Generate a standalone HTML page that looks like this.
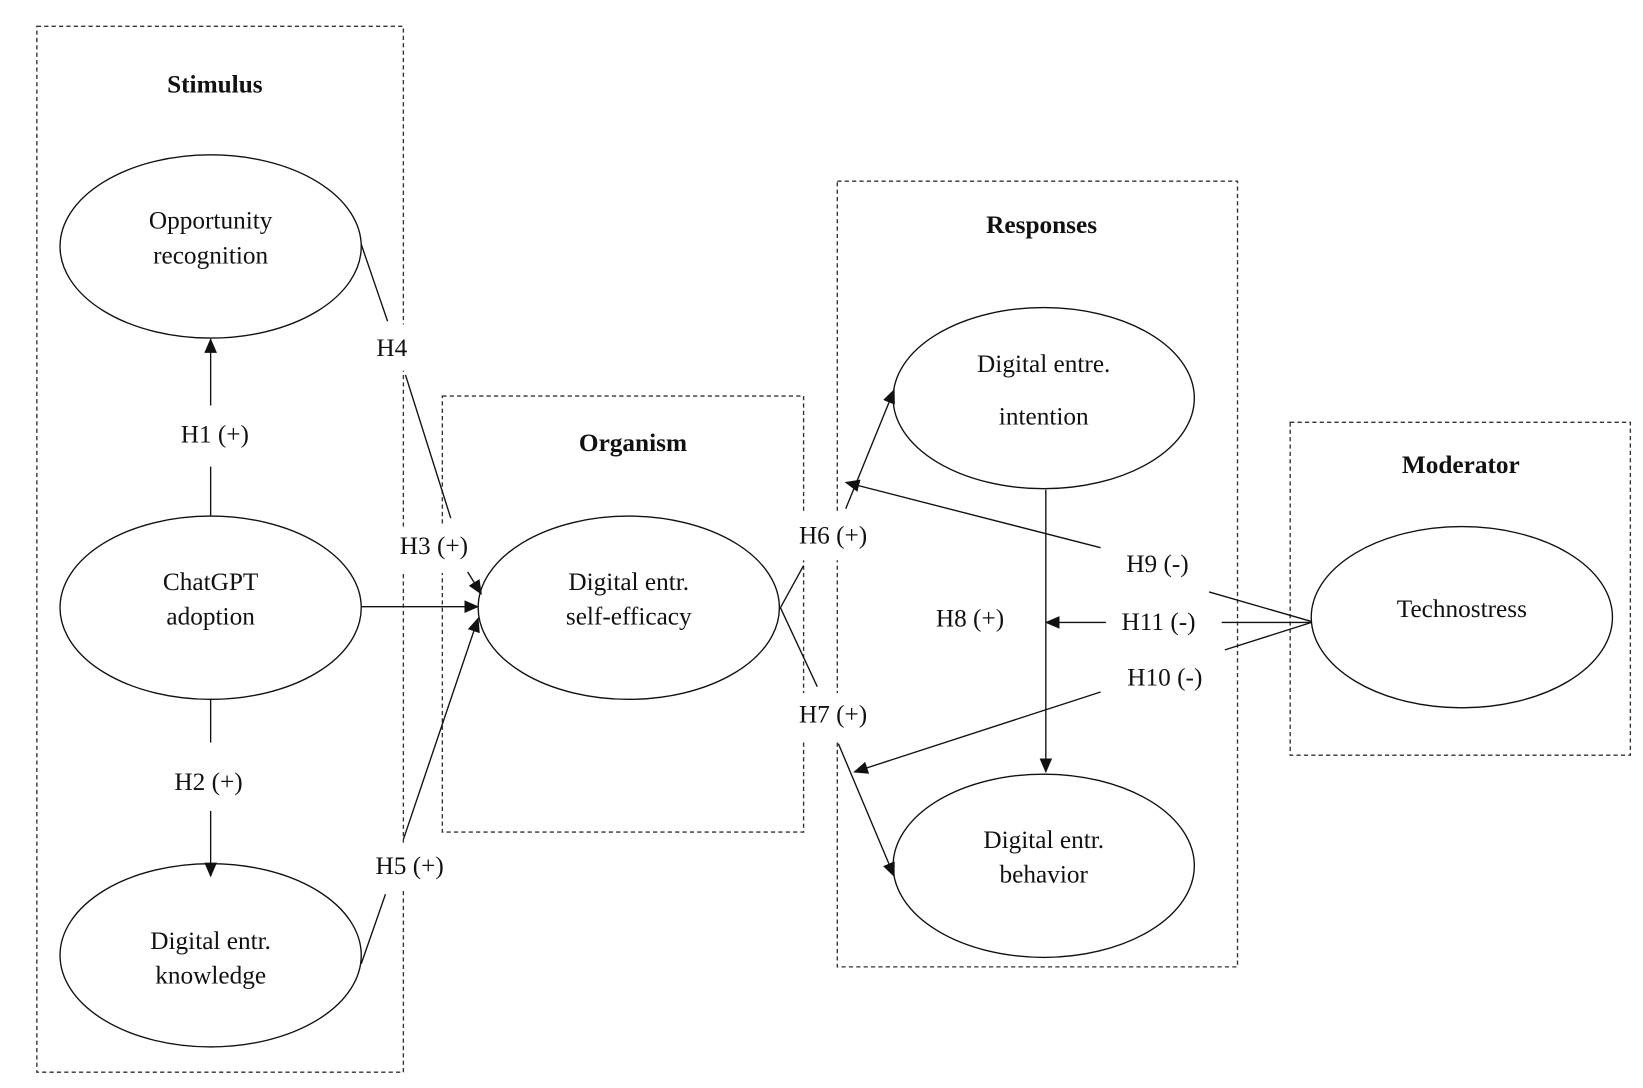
<!DOCTYPE html>
<html><head><meta charset="utf-8"><style>
html,body{margin:0;padding:0;background:#fff;}
svg{display:block;}
text{font-family:"Liberation Serif",serif;font-size:24px;fill:#111;text-anchor:middle;}
.b{font-weight:bold;}
.box{fill:none;stroke:#333;stroke-width:1.3;stroke-dasharray:4,3;}
.e{fill:#fff;stroke:#111;stroke-width:1.3;}
.l{stroke:#111;stroke-width:1.3;fill:none;}
.w{fill:#fff;stroke:none;}
</style></head><body>
<svg width="1643" height="1088" viewBox="0 0 1560 1033" preserveAspectRatio="none">
<defs><marker id="a" markerWidth="14" markerHeight="12" refX="13" refY="6" orient="auto" markerUnits="userSpaceOnUse"><path d="M0,0 L14,6 L0,12 z" fill="#111"/></marker></defs>
<rect class="box" x="35" y="25" width="348" height="993"/>
<rect class="box" x="420" y="376" width="343" height="414"/>
<rect class="box" x="795" y="172" width="380" height="746"/>
<rect class="box" x="1225" y="401" width="323" height="316"/>
<rect class="w" x="350" y="308" width="45" height="44"/>
<rect class="w" x="370" y="500" width="80" height="44"/>
<rect class="w" x="350" y="800" width="80" height="44"/>
<rect class="w" x="752" y="488" width="80" height="44"/>
<rect class="w" x="752" y="658" width="80" height="44"/>
<rect class="w" x="1130" y="574" width="35" height="34"/>
<text class="b" x="204" y="88">Stimulus</text>
<text class="b" x="601" y="428">Organism</text>
<text class="b" x="989" y="221">Responses</text>
<text class="b" x="1387" y="449">Moderator</text>
<ellipse class="e" cx="200" cy="234" rx="143" ry="87"/>
<ellipse class="e" cx="200" cy="577" rx="143" ry="87"/>
<ellipse class="e" cx="200" cy="907" rx="143" ry="87"/>
<ellipse class="e" cx="597" cy="577" rx="143" ry="87"/>
<ellipse class="e" cx="991" cy="378" rx="143" ry="86"/>
<ellipse class="e" cx="991" cy="822" rx="143" ry="87"/>
<ellipse class="e" cx="1388" cy="586" rx="143" ry="86"/>
<text x="200" y="217">Opportunity</text><text x="200" y="250">recognition</text>
<text x="200" y="560">ChatGPT</text><text x="200" y="593">adoption</text>
<text x="200" y="901">Digital entr.</text><text x="200" y="934">knowledge</text>
<text x="597" y="560">Digital entr.</text><text x="597" y="593">self-efficacy</text>
<text x="991" y="353">Digital entre.</text><text x="991" y="403">intention</text>
<text x="991" y="805">Digital entr.</text><text x="991" y="838">behavior</text>
<text x="1388" y="586">Technostress</text>
<line class="l" x1="200" y1="490" x2="200" y2="443"/>
<line class="l" x1="200" y1="385" x2="200" y2="322" marker-end="url(#a)"/>
<text x="204" y="420">H1 (+)</text>
<line class="l" x1="200" y1="664" x2="200" y2="705"/>
<line class="l" x1="200" y1="770" x2="200" y2="832" marker-end="url(#a)"/>
<text x="198" y="750">H2 (+)</text>
<line class="l" x1="343" y1="232" x2="368" y2="305"/>
<line class="l" x1="385" y1="356" x2="428" y2="492"/>
<line class="l" x1="444" y1="543" x2="457" y2="564" marker-end="url(#a)"/>
<text x="372" y="338">H4</text>
<line class="l" x1="343" y1="576" x2="454" y2="576" marker-end="url(#a)"/>
<text x="412" y="526">H3 (+)</text>
<line class="l" x1="343" y1="915" x2="366" y2="849"/>
<line class="l" x1="383" y1="797" x2="454" y2="587" marker-end="url(#a)"/>
<text x="389" y="830">H5 (+)</text>
<line class="l" x1="741" y1="577" x2="763" y2="537"/>
<line class="l" x1="803" y1="483" x2="849" y2="370" marker-end="url(#a)"/>
<text x="791" y="516">H6 (+)</text>
<line class="l" x1="741" y1="577" x2="776" y2="652"/>
<line class="l" x1="796" y1="706" x2="849" y2="832" marker-end="url(#a)"/>
<text x="791" y="686">H7 (+)</text>
<line class="l" x1="993" y1="465" x2="993" y2="733" marker-end="url(#a)"/>
<text x="921" y="595">H8 (+)</text>
<line class="l" x1="1050" y1="591" x2="993" y2="591" marker-end="url(#a)"/>
<line class="l" x1="1160" y1="591" x2="1245" y2="591"/>
<text x="1100" y="598">H11 (-)</text>
<line class="l" x1="1148" y1="562" x2="1245" y2="590"/>
<line class="l" x1="1045" y1="520" x2="803" y2="458" marker-end="url(#a)"/>
<text x="1099" y="543">H9 (-)</text>
<line class="l" x1="1163" y1="617" x2="1245" y2="591"/>
<line class="l" x1="1045" y1="657" x2="811" y2="733" marker-end="url(#a)"/>
<text x="1106" y="651">H10 (-)</text>
</svg>
</body></html>
